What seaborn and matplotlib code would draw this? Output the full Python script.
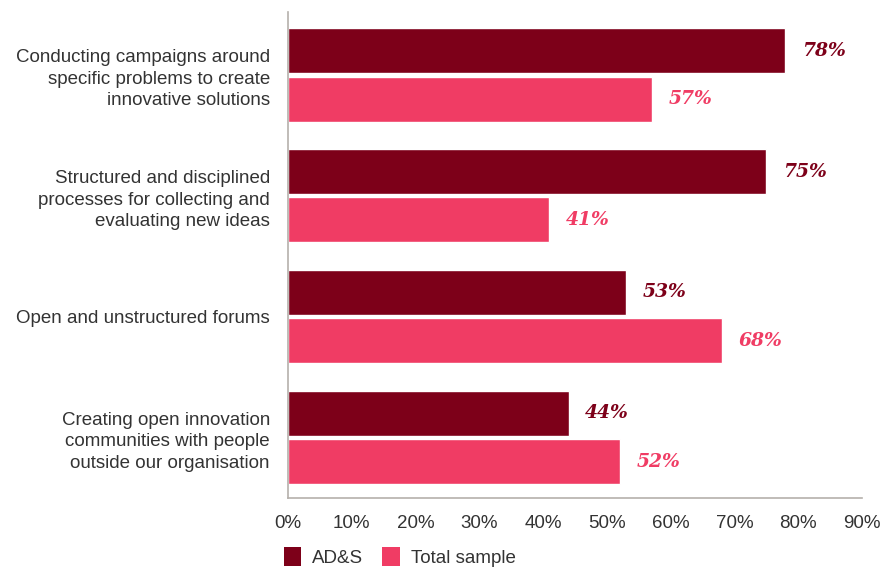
import matplotlib
matplotlib.use("Agg")
import matplotlib.pyplot as plt
import seaborn as sns
import pandas as pd
from matplotlib.patches import Patch

categories = [
    "Conducting campaigns around\nspecific problems to create\ninnovative solutions",
    "Structured and disciplined\nprocesses for collecting and\nevaluating new ideas",
    "Open and unstructured forums",
    "Creating open innovation\ncommunities with people\noutside our organisation",
]
series_names = ["AD&S", "Total sample"]
ads_values = [78, 75, 53, 44]
total_values = [57, 41, 68, 52]
x_ticks = [0, 10, 20, 30, 40, 50, 60, 70, 80, 90]
colors = ["#7D0019", "#F03C64"]

df = pd.DataFrame({
    "category": categories * 2,
    "series": [series_names[0]] * 4 + [series_names[1]] * 4,
    "value": ads_values + total_values,
})

sns.set_theme(style="white")
plt.rcParams["font.family"] = ["Liberation Sans", "DejaVu Sans"]

fig = plt.figure(figsize=(8.94, 5.67), dpi=100)
ax = fig.add_axes([288 / 894, 1 - 498 / 567, (862 - 288) / 894, (498 - 12) / 567])

sns.barplot(data=df, y="category", x="value", hue="series", palette=colors,
            orient="h", width=0.8, gap=0.07, ax=ax, legend=False, saturation=1)

ax.set_xlim(0, 90)
ax.set_ylim(3.5, -0.52)
ax.set_xticks(x_ticks)
ax.set_xticklabels([f"{t}%" for t in x_ticks], fontsize=13.5, color="#333333")
ax.tick_params(axis="y", labelsize=13.5, labelcolor="#333333", length=0, pad=13)
ax.tick_params(axis="x", length=0, pad=12)
for lbl in ax.get_yticklabels():
    lbl.set_horizontalalignment("right")
    lbl.set_multialignment("right")
    lbl.set_linespacing(1.35)
ax.set_xlabel("")
ax.set_ylabel("")
for s in ["top", "right"]:
    ax.spines[s].set_visible(False)
for s in ["left", "bottom"]:
    ax.spines[s].set_color("#b5b0ab")
    ax.spines[s].set_linewidth(1.2)

for container, col in zip(ax.containers, colors):
    ax.bar_label(container, labels=[f"{int(v.get_width())}%" for v in container],
                 padding=12, color=col, fontsize=13.5, fontweight="bold",
                 fontstyle="italic", family="DejaVu Serif")

handles = [Patch(facecolor=c, edgecolor="none") for c in colors]
fig.legend(handles, series_names, loc="lower left", bbox_to_anchor=(267 / 894, -0.03),
           ncol=2, frameon=False, fontsize=13.5, handlelength=0.92, handleheight=1.2,
           columnspacing=1.0, handletextpad=0.6, labelcolor="#333333")

fig.savefig("out.png", dpi=100)
